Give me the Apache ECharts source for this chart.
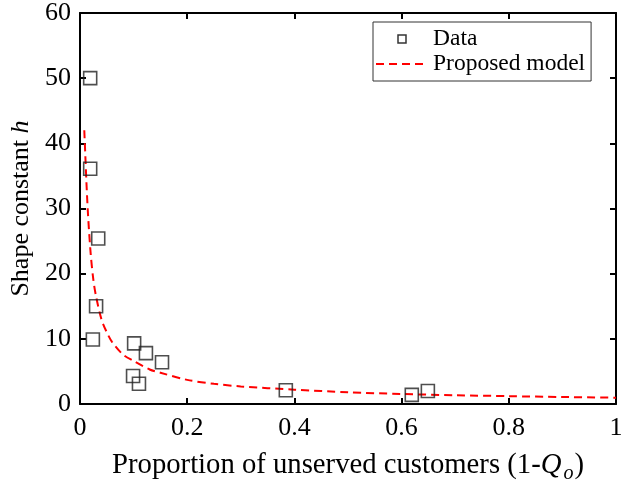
<!DOCTYPE html>
<html>
<head>
<meta charset="utf-8">
<script src="https://cdn.jsdelivr.net/npm/echarts@6/dist/echarts.min.js"></script>
<style>html,body{margin:0;padding:0;background:#fff}#c{width:628px;height:489px}</style>
</head>
<body>
<div id="c"></div>
<script>
// Observed data (x = proportion unserved, y = shape constant h)
const dataX = [0.019, 0.019, 0.034, 0.030, 0.024, 0.101, 0.123, 0.153, 0.099, 0.110, 0.384, 0.619, 0.649];
const dataY = [50.0, 36.1, 25.4, 15.0, 9.9, 9.3, 7.8, 6.4, 4.3, 3.1, 2.1, 1.4, 2.0];
// Proposed model curve
const modelX = [0.008, 0.010, 0.012, 0.015, 0.020, 0.025, 0.030, 0.040, 0.050, 0.060, 0.080, 0.100, 0.130, 0.150, 0.200, 0.250, 0.300, 0.400, 0.500, 0.600, 0.700, 0.800, 0.900, 1.000];
const modelY = [42.0, 38.0, 34.0, 29.0, 23.0, 19.0, 16.5, 13.0, 11.0, 9.5, 7.6, 6.6, 5.3, 4.8, 3.7, 3.1, 2.7, 2.2, 1.8, 1.53, 1.35, 1.2, 1.07, 0.97];
const xTicks = [0, 0.2, 0.4, 0.6, 0.8, 1];
const yTicks = [0, 10, 20, 30, 40, 50, 60];
const seriesNames = ['Data', 'Proposed model'];

const FONT = 'Liberation Serif';
const chart = echarts.init(document.getElementById('c'), null, {renderer: 'canvas'});
const fmtX = v => String(v);
const axisCommon = {
  axisLine: {show: true, onZero: false, lineStyle: {color: '#000', width: 2}},
  axisTick: {show: true, inside: true, length: 6, lineStyle: {color: '#000', width: 2}},
  splitLine: {show: false}
};
chart.setOption({
  animation: false,
  backgroundColor: '#fff',
  grid: {left: 80, right: 12, top: 12, bottom: 85, containLabel: false},
  legend: {
    orient: 'vertical',
    left: 373, top: 22,
    backgroundColor: '#fff',
    borderColor: '#333', borderWidth: 1, borderRadius: 0,
    padding: [5, 6, 5, 2],
    itemGap: 1,
    itemWidth: 52, itemHeight: 8,
    symbolKeepAspect: true,
    textStyle: {fontFamily: FONT, fontSize: 23.5, color: '#000'},
    data: [
      {name: seriesNames[0], icon: 'path://M0,0H10V10H0Z', itemStyle: {color: 'rgba(0,0,0,0)', borderColor: '#000', borderWidth: 1.5}},
      {name: seriesNames[1], itemStyle: {color: 'rgba(0,0,0,0)', borderWidth: 0, opacity: 0}}
    ]
  },
  xAxis: [{
    type: 'value', min: 0, max: 1, interval: 0.2, position: 'bottom',
    ...axisCommon,
    axisLabel: {fontFamily: FONT, fontSize: 26, color: '#000', margin: 11, formatter: fmtX},
    name: '{n|Proportion of unserved customers (1-}{i|Q}{s|o}{n|)}',
    nameLocation: 'middle', nameGap: 42,
    nameTextStyle: {fontFamily: FONT, fontSize: 28.7, color: '#000',
      rich: {
        n: {fontFamily: FONT, fontSize: 28.7, color: '#000'},
        i: {fontFamily: FONT, fontSize: 28.7, color: '#000', fontStyle: 'italic'},
        s: {fontFamily: FONT, fontSize: 20, color: '#000', fontStyle: 'italic', padding: [18, 1, 0, 2]}
      }}
  }, {
    type: 'value', min: 0, max: 1, interval: 0.2, position: 'top',
    ...axisCommon, axisLabel: {show: false}
  }],
  yAxis: [{
    type: 'value', min: 0, max: 60, interval: 10, position: 'left',
    ...axisCommon,
    axisLabel: {fontFamily: FONT, fontSize: 26, color: '#000', margin: 9},
    name: '{n|Shape constant }{i|h}',
    nameLocation: 'middle', nameGap: 44, nameRotate: 90,
    nameTextStyle: {fontFamily: FONT, fontSize: 26, color: '#000',
      rich: {
        n: {fontFamily: FONT, fontSize: 26, color: '#000'},
        i: {fontFamily: FONT, fontSize: 26, color: '#000', fontStyle: 'italic'}
      }}
  }, {
    type: 'value', min: 0, max: 60, interval: 10, position: 'right',
    ...axisCommon, axisLabel: {show: false}
  }],
  series: [{
    name: seriesNames[0], type: 'scatter',
    symbol: 'rect', symbolSize: 13,
    itemStyle: {color: 'rgba(0,0,0,0)', borderColor: '#222', borderWidth: 1.6},
    data: dataX.map((x, i) => [x, dataY[i]]),
    z: 3
  }, {
    name: seriesNames[1], type: 'line',
    showSymbol: false, symbol: 'none', smooth: 0.3,
    lineStyle: {color: '#ff0000', width: 2, type: [8, 5]},
    itemStyle: {color: '#ff0000'},
    data: modelX.map((x, i) => [x, modelY[i]]),
    z: 2
  }]
});
</script>
</body>
</html>
